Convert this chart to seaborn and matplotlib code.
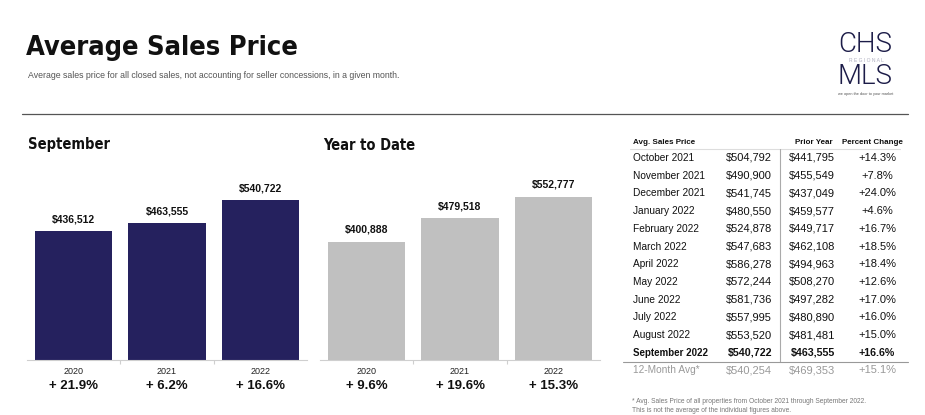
import matplotlib
matplotlib.use("Agg")
import matplotlib.pyplot as plt
import matplotlib.transforms as mtransforms
import pandas as pd
import seaborn as sns

# chart data
years = ["2020", "2021", "2022"]
september_prices = [436512, 463555, 540722]
september_changes = ["+ 21.9%", "+ 6.2%", "+ 16.6%"]
ytd_prices = [400888, 479518, 552777]
ytd_changes = ["+ 9.6%", "+ 19.6%", "+ 15.3%"]

# table data
months = ["October 2021", "November 2021", "December 2021", "January 2022", "February 2022",
          "March 2022", "April 2022", "May 2022", "June 2022", "July 2022", "August 2022",
          "September 2022"]
month_prices = ["$504,792", "$490,900", "$541,745", "$480,550", "$524,878", "$547,683",
                "$586,278", "$572,244", "$581,736", "$557,995", "$553,520", "$540,722"]
prior_prices = ["$441,795", "$455,549", "$437,049", "$459,577", "$449,717", "$462,108",
                "$494,963", "$508,270", "$497,282", "$480,890", "$481,481", "$463,555"]
pct_changes = ["+14.3%", "+7.8%", "+24.0%", "+4.6%", "+16.7%", "+18.5%", "+18.4%",
               "+12.6%", "+17.0%", "+16.0%", "+15.0%", "+16.6%"]
avg_row = ["12-Month Avg*", "$540,254", "$469,353", "+15.1%"]

NAVY = "#25215e"
GREY = "#c0c0c0"
W, H = 925, 415

sns.set_theme(style="white")
plt.rcParams["font.family"] = ["Liberation Sans", "DejaVu Sans"]
NARROW = ["DejaVu Sans"]


def fx(x):
    return x / W


def fy(y):
    return 1 - y / H


def bar_panel(fig, left_px, prices, changes, color, title, title_x):
    ax = fig.add_axes([fx(left_px), fy(360), fx(280), (360 - 168) / H])
    df = pd.DataFrame({"year": years, "price": prices})
    sns.barplot(data=df, x="year", y="price", color=color, width=0.83, ax=ax,
                saturation=1, edgecolor="none")
    ax.set_xlim(-0.5, 2.5)
    ax.set_ylim(0, 650000)
    ax.bar_label(ax.containers[0], labels=[f"${v:,.0f}" for v in prices], padding=5,
                 fontsize=7.5, fontweight="bold", color="#111111")
    for s in ["top", "left", "right"]:
        ax.spines[s].set_visible(False)
    ax.spines["bottom"].set_color("#cfcfcf")
    ax.spines["bottom"].set_linewidth(0.8)
    ax.set_yticks([])
    ax.set_xticks([0.5, 1.5], minor=True)
    ax.tick_params(axis="x", which="minor", bottom=True, length=3, color="#cfcfcf", width=0.8)
    ax.tick_params(axis="x", which="major", bottom=False, labelbottom=False)
    ax.set_xlabel("")
    ax.set_ylabel("")
    trans = mtransforms.blended_transform_factory(ax.transData, fig.transFigure)
    for i, (yr, c) in enumerate(zip(years, changes)):
        ax.text(i, fy(371), yr, transform=trans, ha="center", va="center",
                fontsize=6.5, color="#222222")
        ax.text(i, fy(386), c, transform=trans, ha="center", va="center",
                fontsize=9.5, fontweight="bold", color="#111111")
    fig.text(fx(title_x), fy(145), title, ha="left", va="center", fontsize=10.5,
             fontweight="bold", family=NARROW, fontstretch="condensed", color="#111111")
    return ax


fig = plt.figure(figsize=(W / 100, H / 100), dpi=100)

# header
fig.text(fx(26), fy(48), "Average Sales Price", ha="left", va="center", fontsize=19.5,
         fontweight="bold", family=NARROW, fontstretch="condensed", color="#111111")
fig.text(fx(28), fy(76), "Average sales price for all closed sales, not accounting for seller "
         "concessions, in a given month.", ha="left", va="center", fontsize=6.3, color="#555555")
fig.add_artist(plt.Line2D([fx(22), fx(908)], [fy(114), fy(114)], transform=fig.transFigure,
                          color="#555555", linewidth=0.9))

# logo
logo_font = ["Roboto", "DejaVu Sans"]
fig.text(fx(865), fy(44), "CHS", ha="center", va="center", fontsize=20, color="#1c1c48",
         fontweight=300, family=logo_font)
fig.text(fx(866), fy(60), "R E G I O N A L", ha="center", va="center", fontsize=3.6,
         color="#b0b0c0")
fig.text(fx(865), fy(76), "MLS", ha="center", va="center", fontsize=20, color="#1c1c48",
         fontweight=300, family=logo_font)
fig.text(fx(866), fy(94), "we open the door to your market", ha="center", va="center",
         fontsize=2.8, color="#555555")

# bar panels
bar_panel(fig, 27, september_prices, september_changes, NAVY, "September", 28)
bar_panel(fig, 320, ytd_prices, ytd_changes, GREY, "Year to Date", 323)

# table
col_name, col_cur, col_prior, col_pct = 633, 772, 835, 877
fig.text(fx(col_name), fy(142), "Avg. Sales Price", ha="left", va="center", fontsize=5.8,
         fontweight="bold", color="#111111")
fig.text(fx(814), fy(142), "Prior Year", ha="center", va="center", fontsize=5.8,
         fontweight="bold", color="#111111")
fig.text(fx(872), fy(142), "Percent Change", ha="center", va="center", fontsize=5.8,
         fontweight="bold", color="#111111")

row_step = 17.7
for i, (m, cur, prior, pct) in enumerate(zip(months, month_prices, prior_prices, pct_changes)):
    y = fy(158 + i * row_step)
    bold = i == len(months) - 1
    kw = dict(va="center", fontweight="bold" if bold else "normal", color="#111111")
    fig.text(fx(col_name), y, m, ha="left", fontsize=7.0 if bold else 7.3, **kw)
    fig.text(fx(col_cur), y, cur, ha="right", fontsize=7.7 if bold else 8, **kw)
    fig.text(fx(col_prior), y, prior, ha="right", fontsize=7.7 if bold else 8, **kw)
    fig.text(fx(col_pct), y, pct, ha="center", fontsize=7.7 if bold else 8, **kw)

y_avg = fy(158 + len(months) * row_step)
kw = dict(va="center", color="#999999")
fig.text(fx(col_name), y_avg, avg_row[0], ha="left", fontsize=7.3, **kw)
fig.text(fx(col_cur), y_avg, avg_row[1], ha="right", fontsize=8, **kw)
fig.text(fx(col_prior), y_avg, avg_row[2], ha="right", fontsize=8, **kw)
fig.text(fx(col_pct), y_avg, avg_row[3], ha="center", fontsize=8, **kw)

fig.add_artist(plt.Line2D([fx(630), fx(900)], [fy(149), fy(149)], transform=fig.transFigure,
                          color="#dddddd", linewidth=0.8))
fig.add_artist(plt.Line2D([fx(780), fx(780)], [fy(149), fy(362)], transform=fig.transFigure,
                          color="#aaaaaa", linewidth=0.8))
fig.add_artist(plt.Line2D([fx(623), fx(908)], [fy(362), fy(362)], transform=fig.transFigure,
                          color="#999999", linewidth=0.8))

fig.text(fx(632), fy(401), "* Avg. Sales Price of all properties from October 2021 through "
         "September 2022.", ha="left", va="center", fontsize=4.8, color="#777777")
fig.text(fx(632), fy(410), "This is not the average of the individual figures above.",
         ha="left", va="center", fontsize=4.8, color="#777777")

fig.savefig("out.png", dpi=100)
